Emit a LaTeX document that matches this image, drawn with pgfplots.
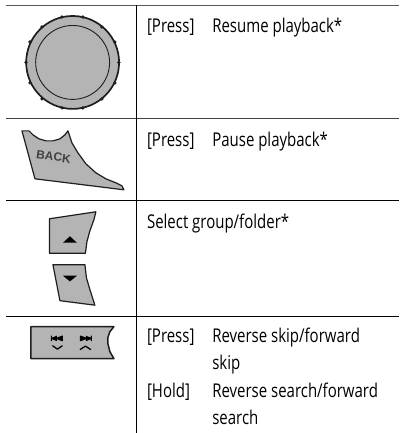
\documentclass[border=0pt]{standalone}
\usepackage{pgfplots}
\pgfplotsset{compat=1.18}
\usepackage{fontspec}
\setmainfont[FakeStretch=0.79]{Open Sans}
\newfontfamily\bk{Liberation Sans}
\definecolor{btn}{HTML}{B4B4B4}
\definecolor{ink}{HTML}{1E1E1E}
\tikzset{t/.style={font=\fontsize{19bp}{21bp}\selectfont, anchor=base west, inner sep=0pt, text=black}}
\begin{document}
\begin{tikzpicture}[line join=round]
\begin{axis}[
  axis lines=none, scale only axis, width=399bp, height=433bp,
  xmin=0, xmax=399, ymin=0, ymax=433, y dir=reverse, clip=false,
  tick=\empty
]
\path (axis cs:0,0) rectangle (axis cs:399,433);
% table rules
\addplot[draw=black!65, line width=1.1bp] coordinates {(6,5.5) (399,5.5)};
\addplot[draw=black!75, line width=1bp] coordinates {(6,119) (399,119)};
\addplot[draw=black, line width=0.9bp] coordinates {(6,201) (399,201)};
\addplot[draw=black, line width=0.9bp] coordinates {(6,316.5) (399,316.5)};
\addplot[draw=black, line width=0.9bp] coordinates {(136.7,5) (136.7,433)};
% knob
\addplot[only marks, mark=*, mark size=1.5bp, mark options={fill=ink, draw=ink}] coordinates {
(62,17) (83,17) (102,27) (115,42) (119,62.5) (115,83) (102,99) (83,108) (62,108) (42,99) (30,83) (26,62.5) (30,42) (42,27)};
\draw[draw=ink, line width=1.7bp, fill=btn] (axis cs:72.7,62.5) circle [radius=46.5];
\draw[draw=ink, line width=0.9bp] (axis cs:72.7,62.5) circle [radius=37];
% BACK
\addplot[draw=ink, line width=1.2bp, fill=btn] coordinates {
(22,131) (29,131) (33,135) (39,139) (46,141) (53,141) (60,139) (65,135) (68,131)
(72,143) (78,153) (86,164) (96,173) (106,179) (116,183) (122,186) (124,190)
(35,179)} -- cycle;
\node[rotate=-8, anchor=center, inner sep=0pt, font=\fontsize{12bp}{14bp}\selectfont\bk\bfseries, text=black!75] at (axis cs:53.7,157) {BACK};
% up
\addplot[draw=ink, line width=1.2bp, fill=btn] coordinates {
(49.5,219) (96,212) (94,220) (90,231) (87,242) (85.5,253.5) (49.5,253.5)} -- cycle;
\addplot[fill=black, draw=none] coordinates {(63,243) (70,236.5) (77,243)} -- cycle;
% down
\addplot[draw=ink, line width=1.2bp, fill=btn] coordinates {
(53,265) (85,265) (86.5,278) (90,290) (95,305.5) (60,301)} -- cycle;
\addplot[fill=black, draw=none] coordinates {(63,276) (77,276) (70,281.7)} -- cycle;
% skip
\addplot[draw=ink, line width=1.5bp, fill=btn] coordinates {
(31,327) (114,327) (110,332) (108,338) (108,344) (110,352) (114,359) (31,359)} -- cycle;
\addplot[fill=black, draw=none] coordinates {(51,336) (52,336) (52,338) (57,336) (57,338) (62,336) (63,336) (63,341.5) (62,341.5) (57,339.5) (57,341.5) (52,339.5) (52,341.5) (51,341.5)} -- cycle;
\addplot[draw=black, line width=1.3bp] coordinates {(52.5,346) (57.5,349.5) (62.5,346)};
\addplot[fill=black, draw=none] coordinates {(80,336) (81,336) (86,338) (86,336) (91,338) (91,336) (92,336) (92,341.5) (91,341.5) (91,339.5) (86,341.5) (86,339.5) (81,341.5) (80,341.5)} -- cycle;
\addplot[draw=black, line width=1.3bp] coordinates {(80,350) (85.5,346.5) (91,350)};
% text
\node[t] at (axis cs:147,33) {[Press]};
\node[t] at (axis cs:212.3,33) {Resume playback*};
\node[t] at (axis cs:147,146.7) {[Press]};
\node[t] at (axis cs:212.3,146.7) {Pause playback*};
\node[t] at (axis cs:147,228.3) {Select group/folder*};
\node[t] at (axis cs:147,343) {[Press]};
\node[t] at (axis cs:212.3,343) {Reverse skip/forward};
\node[t] at (axis cs:212.3,370) {skip};
\node[t] at (axis cs:147,398) {[Hold]};
\node[t] at (axis cs:212.3,398) {Reverse search/forward};
\node[t] at (axis cs:212.3,425) {search};
\end{axis}
\end{tikzpicture}
\end{document}
